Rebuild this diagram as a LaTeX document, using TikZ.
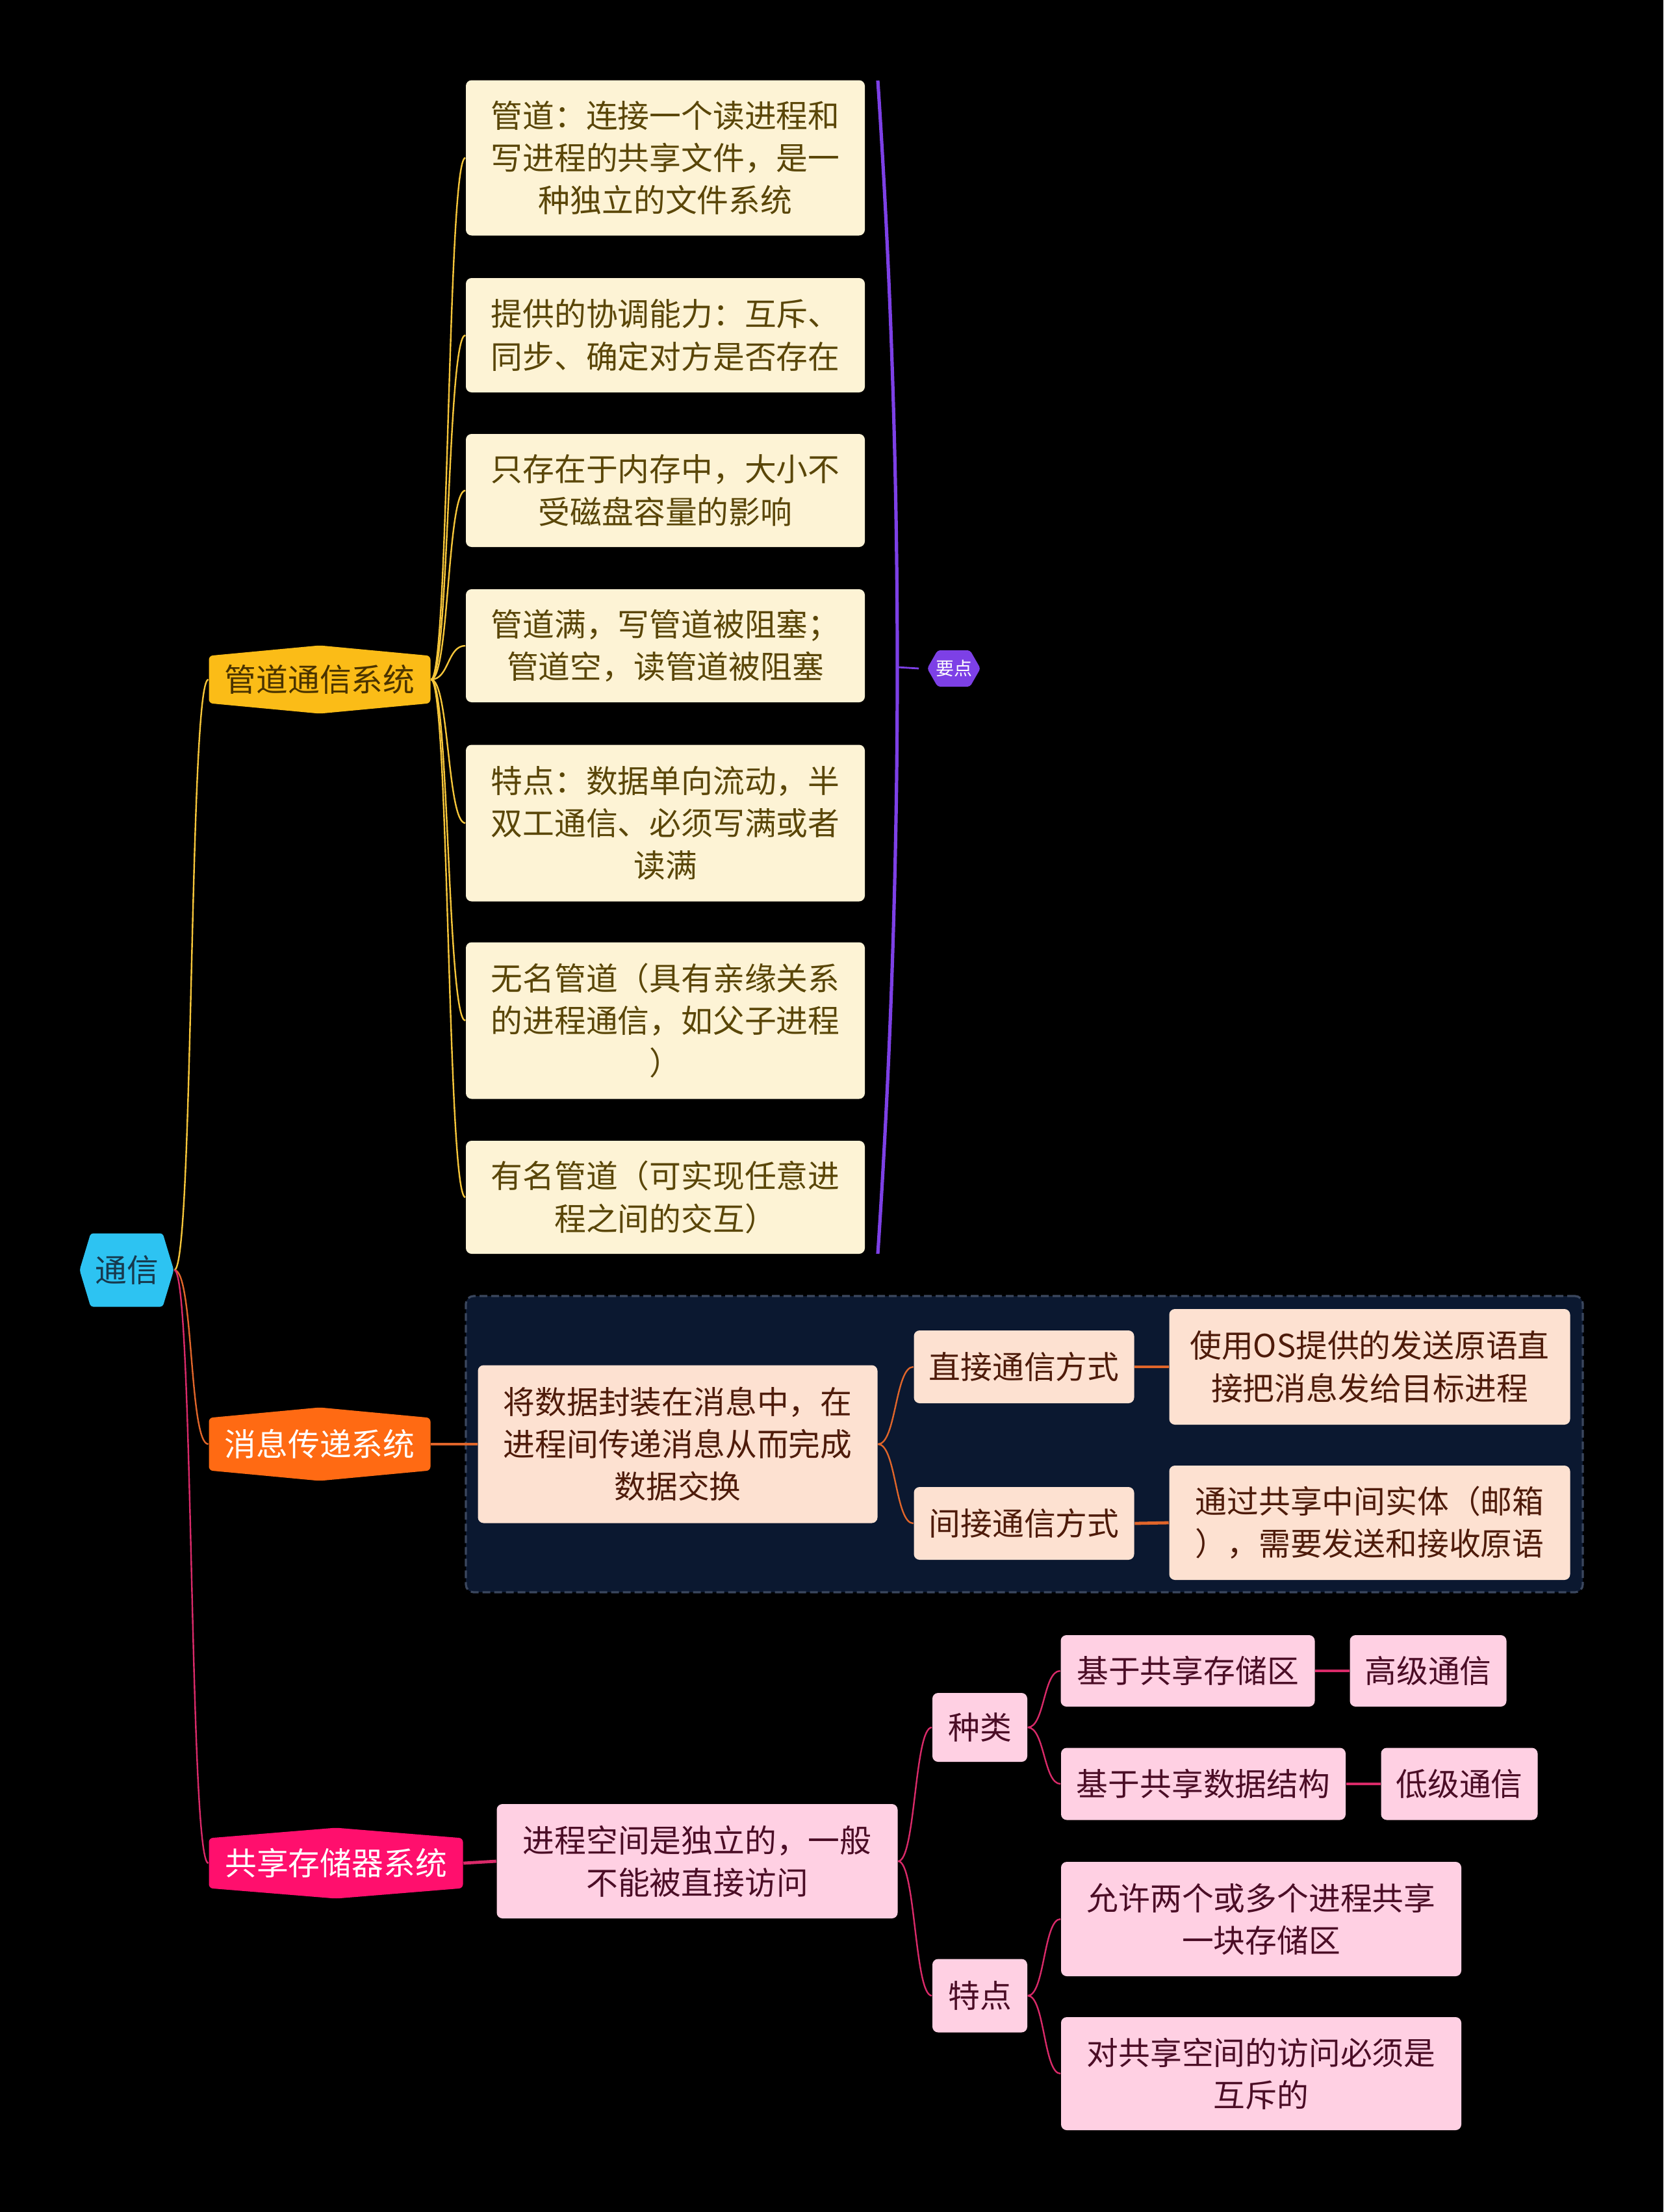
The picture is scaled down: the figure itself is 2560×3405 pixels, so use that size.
\documentclass[tikz,border=0pt]{standalone}
\usepackage{fontspec}
\newfontfamily\cjk{Noto Sans CJK SC}
\definecolor{bgnavy}{HTML}{0B1830}
\definecolor{rootc}{HTML}{2DC3F2}
\definecolor{roottxt}{HTML}{17394D}
\definecolor{ybr}{HTML}{FBBC17}
\definecolor{ybrtxt}{HTML}{4A3300}
\definecolor{yfill}{HTML}{FDF3D5}
\definecolor{ytxt}{HTML}{5A4608}
\definecolor{yline}{HTML}{F5C53A}
\definecolor{purp}{HTML}{7D40E6}
\definecolor{obr}{HTML}{FF6A13}
\definecolor{ofill}{HTML}{FDE1D1}
\definecolor{otxt}{HTML}{4E1B0A}
\definecolor{oline}{HTML}{E0652A}
\definecolor{pbr}{HTML}{FF0F6D}
\definecolor{pfill}{HTML}{FFD0E3}
\definecolor{ptxt}{HTML}{4B0D26}
\definecolor{pline}{HTML}{D92A69}
\definecolor{dashc}{HTML}{3B475E}
\tikzset{
  base/.style={inner sep=0pt, align=center, font=\cjk\fontsize{12.2}{16.3}\selectfont},
  sz/.style 2 args={minimum width=#1*0.25pt, minimum height=#2*0.25pt},
  rbox/.style={base, rounded corners=2.2pt},
  ybox/.style={rbox, fill=yfill, text=ytxt},
  obox/.style={rbox, fill=ofill, text=otxt},
  pbox/.style={rbox, fill=pfill, text=ptxt},
  hexh/.style 2 args={base, path picture={\fill[#1, rounded corners=1pt]
      (path picture bounding box.west) -- ([xshift=#2]path picture bounding box.north west)
      -- ([xshift=-#2]path picture bounding box.north east) -- (path picture bounding box.east)
      -- ([xshift=-#2]path picture bounding box.south east) -- ([xshift=#2]path picture bounding box.south west) -- cycle;}},
  hexv/.style 2 args={base, path picture={\fill[#1, rounded corners=1.5pt]
      (path picture bounding box.north) -- ([yshift=-#2]path picture bounding box.north east)
      -- ([yshift=#2]path picture bounding box.south east) -- (path picture bounding box.south)
      -- ([yshift=#2]path picture bounding box.south west) -- ([yshift=-#2]path picture bounding box.north west) -- cycle;}},
  yl/.style={draw=yline, line width=0.6pt},
  ol/.style={draw=oline, line width=0.6pt},
  pl/.style={draw=pline, line width=0.6pt},
  olt/.style={draw=oline, line width=1.2pt},
  plt/.style={draw=pline, line width=1.2pt},
}
\begin{document}
\begin{tikzpicture}[x=0.25pt,y=-0.25pt]
\fill[black] (0,0) rectangle (2560,3405);
\useasboundingbox (0,0) rectangle (2560,3405);

% message region
\node[sz={1719}{456}, rounded corners=3pt, fill=bgnavy, draw=dashc, line width=0.8pt, dash pattern=on 3pt off 1.5pt] (msgbox) at (1576.5,2223) {};

% root and branches
\node[hexh={rootc}{4.25pt}, sz={145}{113}, text=roottxt] (root) at (195,1955) {通信};
\node[hexv={ybr}{4pt}, sz={341}{105}, text=ybrtxt] (pipe) at (492,1046) {管道通信系统};
\node[hexv={obr}{4pt}, sz={341}{113}, text=white] (msg) at (492,2223) {消息传递系统};
\node[hexv={pbr}{4pt}, sz={391}{109}, text=white] (shm) at (517,2868) {共享存储器系统};

% pipe children
\node[ybox, sz={614}{239}] (y1) at (1024,243) {管道：连接一个读进程和\\写进程的共享文件，是一\\种独立的文件系统};
\node[ybox, sz={614}{176}] (y2) at (1024,516) {提供的协调能力：互斥、\\同步、确定对方是否存在};
\node[ybox, sz={614}{174}] (y3) at (1024,755) {只存在于内存中，大小不\\受磁盘容量的影响};
\node[ybox, sz={614}{174}] (y4) at (1024,994) {管道满，写管道被阻塞；\\管道空，读管道被阻塞};
\node[ybox, sz={614}{241}] (y5) at (1024,1267) {特点：数据单向流动，半\\双工通信、必须写满或者\\读满};
\node[ybox, sz={614}{241}] (y6) at (1024,1571) {无名管道（具有亲缘关系\\的进程通信，如父子进程\\）};
\node[ybox, sz={614}{174}] (y7) at (1024,1843) {有名管道（可实现任意进\\程之间的交互）};

% summary bracket
\coordinate (bt) at (1351,124);
\coordinate (bb) at (1351,1930);
\coordinate (bm) at (1381,1027);
\node[hexh={purp}{4pt}, sz={82}{56}, text=white, font=\cjk\fontsize{7}{8}\selectfont] (kp) at (1468,1029) {要点};
\draw[purp, line width=1.3pt] (bt) .. controls (1391,726) and (1391,1328) .. (bb);
\draw[purp, line width=0.7pt] (bm) -- ([xshift=-3pt]kp.west);

% message children
\node[obox, sz={615}{243}] (m1) at (1043,2223) {将数据封装在消息中，在\\进程间传递消息从而完成\\数据交换};
\node[obox, sz={339}{112}] (m2) at (1576,2104) {直接通信方式};
\node[obox, sz={339}{112}] (m3) at (1576,2345) {间接通信方式};
\node[obox, sz={617}{178}] (m4) at (2108,2104) {使用OS提供的发送原语直\\接把消息发给目标进程};
\node[obox, sz={617}{176}] (m5) at (2108,2344) {通过共享中间实体（邮箱\\），需要发送和接收原语};

% shared memory children
\node[pbox, sz={617}{176}] (s1) at (1073,2865) {进程空间是独立的，一般\\不能被直接访问};
\node[pbox, sz={146}{106}] (s2) at (1508,2659) {种类};
\node[pbox, sz={146}{113}] (s3) at (1508,3072) {特点};
\node[pbox, sz={391}{110}] (s4) at (1828,2572) {基于共享存储区};
\node[pbox, sz={438}{111}] (s5) at (1852,2746) {基于共享数据结构};
\node[pbox, sz={241}{110}] (s6) at (2198,2572) {高级通信};
\node[pbox, sz={241}{111}] (s7) at (2246,2746) {低级通信};
\node[pbox, sz={616}{176}] (s8) at (1941,2954) {允许两个或多个进程共享\\一块存储区};
\node[pbox, sz={616}{174}] (s9) at (1941,3192) {对共享空间的访问必须是\\互斥的};

% connectors from root
\draw[yl] (root.east) .. controls +(30,0) and +(-30,0) .. (pipe.west);
\draw[ol] (root.east) .. controls +(30,0) and +(-30,0) .. (msg.west);
\draw[pl] (root.east) .. controls +(30,0) and +(-30,0) .. (shm.west);

% pipe connectors
\foreach \c in {y1,y2,y3,y4,y5,y6,y7}
  \draw[yl] (pipe.east) .. controls +(28,0) and +(-28,0) .. (\c.west);

% message connectors
\draw[olt] (msg.east) -- (m1.west);
\draw[ol] (m1.east) .. controls +(28,0) and +(-28,0) .. (m2.west);
\draw[ol] (m1.east) .. controls +(28,0) and +(-28,0) .. (m3.west);
\draw[olt] (m2.east) -- (m4.west);
\draw[olt] (m3.east) -- (m5.west);

% shared memory connectors
\draw[plt] (shm.east) -- (s1.west);
\draw[pl] (s1.east) .. controls +(27,0) and +(-27,0) .. (s2.west);
\draw[pl] (s1.east) .. controls +(27,0) and +(-27,0) .. (s3.west);
\draw[pl] (s2.east) .. controls +(26,0) and +(-26,0) .. (s4.west);
\draw[pl] (s2.east) .. controls +(26,0) and +(-26,0) .. (s5.west);
\draw[plt] (s4.east) -- (s6.west);
\draw[plt] (s5.east) -- (s7.west);
\draw[pl] (s3.east) .. controls +(26,0) and +(-26,0) .. (s8.west);
\draw[pl] (s3.east) .. controls +(26,0) and +(-26,0) .. (s9.west);
\end{tikzpicture}
\end{document}
